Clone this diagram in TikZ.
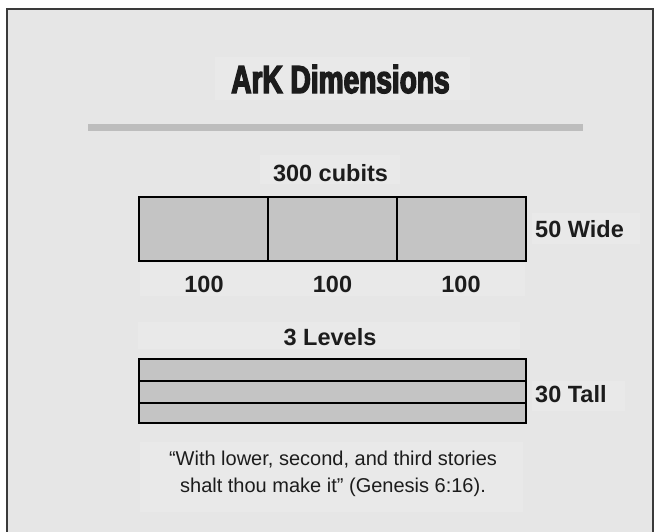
\documentclass[tikz,border=0pt]{standalone}
\usepackage{fontspec}
\usepackage{graphicx}
\setmainfont{Liberation Sans}
\newfontfamily\titlefont[FakeStretch=0.72, BoldFeatures={FakeBold=3.5}]{Liberation Sans}

\definecolor{panel}{HTML}{E6E6E6}
\definecolor{labelbg}{HTML}{E9E9E9}
\definecolor{cell}{HTML}{C4C4C4}
\definecolor{rulegray}{HTML}{BDBDBD}
\definecolor{ink}{HTML}{1C1C1C}
\definecolor{framec}{HTML}{3A3A3A}

\tikzset{
  lbl/.style={font=\fontsize{23.5}{26}\selectfont\bfseries, text=ink, inner sep=0pt, anchor=base},
  sidelbl/.style={lbl, anchor=base west},
  cellbox/.style={draw=black, line width=1.7pt, fill=cell, inner sep=0pt, anchor=north west},
  plate/.style={fill=labelbg, draw=none},
}

\begin{document}
\begin{tikzpicture}[x=1pt, y=-1pt]
\useasboundingbox (0,0) rectangle (657,531);
\fill[white] (0,0) rectangle (657,531);

% panel with its frame, open at the bottom edge
\begin{scope}
  \clip (0,0) rectangle (657,531);
  \draw[framec, line width=1.5pt, fill=panel] (7,9) rectangle (653,545);
\end{scope}

% light plates behind the texts
\fill[plate] (215,57) rectangle (470,100);
\fill[plate] (260,155) rectangle (400,184);
\fill[plate] (140,263) rectangle (525,296);
\fill[plate] (532,213) rectangle (640,244);
\fill[plate] (138,322) rectangle (520,349);
\fill[plate] (532,381) rectangle (625,411);
\fill[plate] (140,442) rectangle (523,512);

% title and rule beneath it
\node[anchor=base, text=ink, inner sep=0pt] (title) at (340.5,93)
  {\titlefont\bfseries\fontsize{39}{40}\selectfont ArK Dimensions};
\fill[rulegray] (88,124) rectangle (583,131);

% length split into three sections
\node[lbl] (length) at (330.5,181) {300 cubits};
\node[cellbox, minimum width=129pt, minimum height=64pt] (c1) at (138,196) {};
\node[cellbox, minimum width=129pt, minimum height=64pt] (c2) at (267,196) {};
\node[cellbox, minimum width=129pt, minimum height=64pt] (c3) at (396,196) {};
\node[lbl] (h1) at (204,292) {100};
\node[lbl] (h2) at (332.5,292) {100};
\node[lbl] (h3) at (461,292) {100};
\node[sidelbl] (wide) at (535,237) {50 Wide};

% three decks
\node[lbl] (levels) at (330,345) {3 Levels};
\node[cellbox, minimum width=387pt, minimum height=22pt] (l1) at (138,358) {};
\node[cellbox, minimum width=387pt, minimum height=22pt] (l2) at (138,380) {};
\node[cellbox, minimum width=387pt, minimum height=20pt] (l3) at (138,402) {};
\node[sidelbl] (tall) at (535,402) {30 Tall};

% scripture quote (base anchor sits on the last line)
\node[anchor=base, align=center, text=ink, inner sep=0pt,
      font=\fontsize{20}{27}\selectfont] (quote) at (333,492)
  {“With lower, second, and third stories\\shalt thou make it” (Genesis 6:16).};
\end{tikzpicture}
\end{document}
